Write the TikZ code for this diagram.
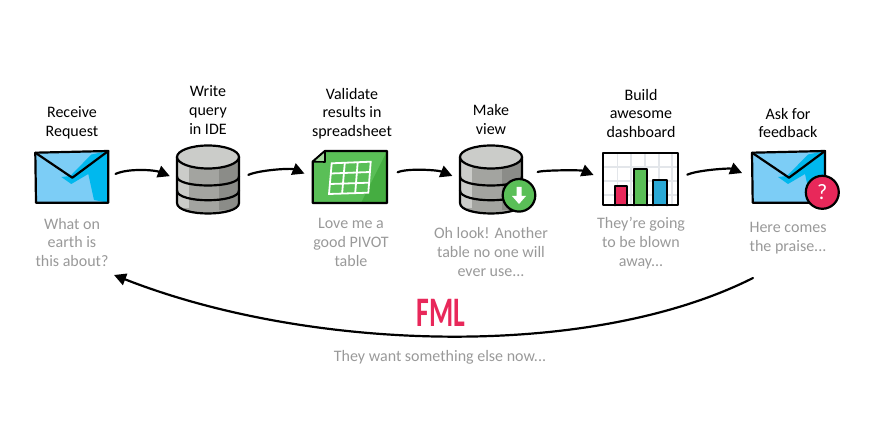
\documentclass[tikz,border=0pt]{standalone}
\usepackage{fontspec}
\setmainfont{Carlito}
\usetikzlibrary{arrows.meta}
\definecolor{envlight}{HTML}{7CCDF6}
\definecolor{envdark}{HTML}{00B8EE}
\definecolor{dbtop}{HTML}{CBCCC9}
\definecolor{dbmid}{HTML}{A3A4A0}
\definecolor{dbdark}{HTML}{8B8C88}
\definecolor{sheet}{HTML}{5ABF57}
\definecolor{sheetdark}{HTML}{45AD41}
\definecolor{sheetfold}{HTML}{A5D99E}
\definecolor{pinkred}{HTML}{E8285A}
\definecolor{barblue}{HTML}{2AA9D6}
\definecolor{gridgray}{HTML}{E3E6EA}
\definecolor{capgray}{HTML}{999999}
\tikzset{
  headtext/.style={align=center,inner sep=0pt,font=\fontsize{16}{18.7}\selectfont,text=black},
  captext/.style={align=center,inner sep=0pt,font=\fontsize{16}{18.7}\selectfont,text=capgray},
  ink/.style={draw=black,line width=2.2pt,line join=round,line cap=round},
  iconbox/.style={inner sep=0pt,minimum width=#1},
  flow/.style={line width=2.2pt,line cap=round,-{Triangle[length=12pt,width=12pt]}},
}
\newcommand{\envelope}[1]{%
  \begin{scope}[xshift=#1pt]
    \fill[envlight] (0,152.7) -- (73,151) -- (73,202.7) -- (0.7,202.7) -- cycle;
    \fill[envdark] (73,151) -- (73,202.7) -- (58.7,200) -- (53,174) -- (36,184) -- (26,177) -- (35,176) -- (56,154.5) -- cycle;
    \draw[ink] (0,152.7) -- (73,151) -- (73,202.7) -- (0.7,202.7) -- cycle;
    \draw[ink] (0,152.7) -- (37,177.7) -- (73,151);
  \end{scope}}
\newcommand{\database}[1]{%
  \begin{scope}[xshift=#1pt]
    \path[fill=dbmid] (0,157) -- (0,203) .. controls (0,217) and (62,217) .. (62,203) -- (62,157) -- cycle;
    \fill[dbtop] (0,157) rectangle (12,208);
    \fill[dbdark] (42,157) rectangle (62,210);
    \fill[white] (-1,205) -- (-1,216) -- (63,216) -- (63,205) -- (62,203) .. controls (62,217) and (0,217) .. (0,203) -- cycle;
    \draw[ink] (0,157) -- (0,203) .. controls (0,217) and (62,217) .. (62,203) -- (62,157);
    \draw[ink] (0,176.5) .. controls (0,188.5) and (62,188.5) .. (62,176.5);
    \draw[ink] (0,190.5) .. controls (0,203.5) and (62,203.5) .. (62,190.5);
    \draw[ink,fill=dbtop] (31,157) ellipse [x radius=31,y radius=11.5];
  \end{scope}}
\begin{document}
\begin{tikzpicture}[x=1pt,y=-1pt]
\useasboundingbox (0,0) rectangle (872,435);

% Icons: anchors first, then the drawings
\node[iconbox=73pt,minimum height=52pt] (env1) at (72,177) {};
\node[iconbox=62pt,minimum height=68pt] (db1) at (208,179) {};
\node[iconbox=74pt,minimum height=52pt] (sheetn) at (350,177) {};
\node[iconbox=62pt,minimum height=68pt] (db2) at (491,179) {};
\node[iconbox=74pt,minimum height=52pt] (dash) at (640.5,179) {};
\node[iconbox=73pt,minimum height=52pt] (env2) at (788.5,177) {};

\envelope{35.3}
\database{177}

% Spreadsheet
\fill[sheet] (325,151) -- (387,151) -- (387,203) -- (312.7,203) -- (312.7,161.7) -- cycle;
\fill[sheetdark] (387,151) -- (387,203) -- (361,203) -- cycle;
\draw[ink] (325,151) -- (387,151) -- (387,203) -- (312.7,203) -- (312.7,161.7) -- cycle;
\draw[ink,fill=sheetfold,line width=1.6pt] (325,151) -- (325,162) -- (312.7,161.7) -- cycle;
\draw[white,line width=1.8pt,line join=miter]
  (331.7,163.3) -- (370.7,161.7) -- (368.3,192.7) -- (329,194) -- cycle
  (344.8,162.8) -- (342.1,193.6) (357.7,162.2) -- (355.2,193.2)
  (330.8,173.5) -- (370,172) (330,184) -- (369,182.7);

\database{460}
\draw[ink,fill=sheet] (519,195.3) circle (16.3);
\fill[white] (516.5,187) -- (521.5,187) -- (521.5,196) -- (526,196) -- (519,204) -- (512,196) -- (516.5,196) -- cycle;

% Dashboard
\fill[white] (603.3,153.3) rectangle (677.7,205.3);
\draw[gridgray,line width=1.4pt]
  (617.5,153.3) -- (617.5,205.3) (631,153.3) -- (631,205.3) (645,153.3) -- (645,205.3) (659,153.3) -- (659,205.3) (672,153.3) -- (672,205.3)
  (603.3,167) -- (677.7,167) (603.3,181) -- (677.7,181) (603.3,195) -- (677.7,195);
\draw[ink,fill=pinkred] (614.7,205.3) -- (614.7,186) -- (627.3,186) -- (627.3,205.3);
\draw[ink,fill=sheet] (634,205.3) -- (634,169.3) -- (647.3,169.3) -- (647.3,205.3);
\draw[ink,fill=barblue] (653.3,205.3) -- (653.3,180) -- (666.7,180) -- (666.7,205.3);
\draw[ink] (603.3,153.3) rectangle (677.7,205.3);

\envelope{752}
\node[circle,draw=black,line width=2.2pt,fill=pinkred,minimum size=33pt,inner sep=0pt,text=white,font=\fontsize{22}{22}\selectfont] (badge) at (822.3,192.3) {?};

% Connectors
\draw[flow,shorten <=7.5pt,shorten >=7.5pt] (env1.east) .. controls +(20,-9) and +(-22,-9) .. (db1.west);
\draw[flow,shorten <=10pt,shorten >=9pt] (db1.east) .. controls +(20,-9) and +(-22,-9) .. (sheetn.west);
\draw[flow,shorten <=11.5pt,shorten >=8pt] (sheetn.east) .. controls +(20,-9) and +(-22,-9) .. (db2.west);
\draw[flow,shorten <=17pt,shorten >=10.5pt] (db2.east) .. controls +(20,-9) and +(-22,-9) .. (dash.west);
\draw[flow,shorten <=10.5pt,shorten >=10.5pt] (dash.east) .. controls +(20,-9) and +(-22,-9) .. (env2.west);

\coordinate (arcstart) at (753,278);
\coordinate (arcend) at (114,275);
\draw[flow] (arcstart) .. controls (590,360) and (310,352) .. (arcend);

% Titles
\node[headtext] (t1) at (72,122.5) {Receive\\Request};
\node[headtext] (t2) at (208,110) {Write\\query\\in IDE};
\node[headtext] (t3) at (352,113.5) {Validate\\results in\\spreadsheet};
\node[headtext] (t4) at (491,119.5) {Make\\view};
\node[headtext] (t5) at (641,113.5) {Build\\awesome\\dashboard};
\node[headtext] (t6) at (788,123) {Ask for\\feedback};

% Captions
\node[captext] (c1) at (72,242.5) {What on\\earth is\\this about?};
\node[captext] (c2) at (351,242.5) {Love me a\\good PIVOT\\table};
\node[captext] (c3) at (491,252) {Oh look! Another\\table no one will\\ever use...};
\node[captext] (c4) at (641,243) {They're going\\to be blown\\away...};
\node[captext] (c5) at (788,238.5) {Here comes\\the praise...};
\node[inner sep=0pt,text=pinkred,font=\fontsize{42}{42}\selectfont\bfseries,xscale=0.66,transform shape] (fml) at (441,313) {FML};
\node[captext] (c6) at (440,357) {They want something else now...};
\end{tikzpicture}
\end{document}
